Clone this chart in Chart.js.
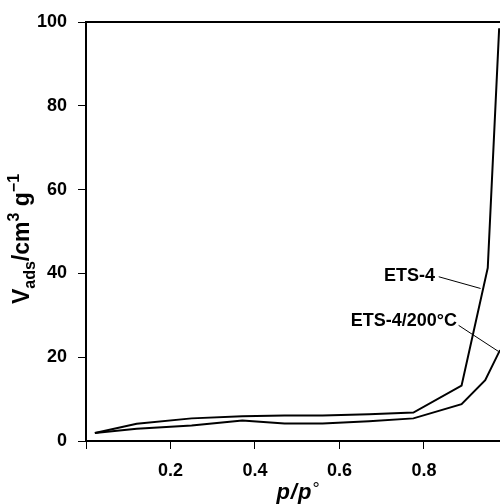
<!DOCTYPE html>
<html>
<head>
<meta charset="utf-8">
<script src="https://cdn.jsdelivr.net/npm/chart.js@4/dist/chart.umd.min.js"></script>
<style>
  html, body { margin: 0; padding: 0; background: #fff; }
  #wrap { width: 500px; height: 504px; position: relative; }
</style>
</head>
<body>
<div id="wrap"><canvas id="c"></canvas></div>
<script>
// ---- data ----
const pressureEts4 = [0.021, 0.12, 0.25, 0.37, 0.47, 0.56, 0.67, 0.775, 0.889, 0.951, 0.978];
const volumeEts4   = [1.9, 4.1, 5.4, 5.9, 6.1, 6.1, 6.4, 6.8, 13.2, 41.3, 98.5];
const pressureEts4_200 = [0.021, 0.12, 0.25, 0.37, 0.47, 0.56, 0.67, 0.775, 0.889, 0.945, 0.98];
const volumeEts4_200   = [1.9, 2.9, 3.7, 4.9, 4.2, 4.2, 4.7, 5.4, 8.8, 14.5, 21.7];
const seriesNames = ['ETS-4', 'ETS-4/200°C'];
const xTicks = [0, 0.2, 0.4, 0.6, 0.8];
const yTicks = [0, 20, 40, 60, 80, 100];

// ---- label placement (data units) ----
const labelSpecs = [
  { text: seriesNames[0], x: 0.826, y: 39.4, from: [0.835, 39.2], to: [0.934, 36.4] },
  { text: seriesNames[1], x: 0.878, y: 28.6, from: [0.882, 27.6], to: [0.976, 21.4] }
];

const FONT = "'Liberation Sans', Arial, Helvetica, sans-serif";

const toXY = (xs, ys) => xs.map((x, i) => ({ x: x, y: ys[i] }));

function drawParts(ctx, parts, startX, baseY) {
  let px = startX;
  parts.forEach(p => { ctx.font = p.f; ctx.fillText(p.t, px, baseY + p.dy); px += p.w + (p.gap || 0); });
}
function measureParts(ctx, parts) {
  let total = 0;
  parts.forEach(p => { ctx.font = p.f; p.w = ctx.measureText(p.t).width; total += p.w + (p.gap || 0); });
  return total;
}

const decorPlugin = {
  id: 'decor',
  afterDraw(chart) {
    const ctx = chart.ctx;
    const a = chart.chartArea;
    const xs = chart.scales.x, ys = chart.scales.y;
    ctx.save();
    // top frame line
    ctx.strokeStyle = '#000';
    ctx.lineWidth = 2;
    ctx.beginPath();
    ctx.moveTo(a.left - 1, a.top);
    ctx.lineTo(a.right, a.top);
    ctx.stroke();

    // series labels with leader lines
    ctx.fillStyle = '#000';
    ctx.font = 'bold 18px ' + FONT;
    ctx.textAlign = 'right';
    ctx.textBaseline = 'middle';
    ctx.lineWidth = 1;
    labelSpecs.forEach(s => {
      ctx.fillText(s.text, xs.getPixelForValue(s.x), ys.getPixelForValue(s.y));
      ctx.beginPath();
      ctx.moveTo(xs.getPixelForValue(s.from[0]), ys.getPixelForValue(s.from[1]));
      ctx.lineTo(xs.getPixelForValue(s.to[0]), ys.getPixelForValue(s.to[1]));
      ctx.stroke();
    });

    // y-axis title: V_ads/cm^3 g^-1 (rotated)
    const parts = [
      { t: 'V', f: 'bold 23px ' + FONT, dy: 0 },
      { t: 'ads', f: 'bold 16px ' + FONT, dy: 6 },
      { t: '/cm', f: 'bold 23px ' + FONT, dy: 0 },
      { t: '3', f: 'bold 16px ' + FONT, dy: -10 },
      { t: ' g', f: 'bold 23px ' + FONT, dy: 0 },
      { t: '\u22121', f: 'bold 16px ' + FONT, dy: -10 }
    ];
    const total = measureParts(ctx, parts);
    ctx.translate(29, 239);
    ctx.rotate(-Math.PI / 2);
    ctx.textAlign = 'left';
    ctx.textBaseline = 'alphabetic';
    drawParts(ctx, parts, -total / 2, 0);
    ctx.setTransform(1, 0, 0, 1, 0, 0);

    // x-axis title: p/p°
    const xparts = [
      { t: 'p', f: 'italic bold 22px ' + FONT, dy: 0, gap: 1 },
      { t: '/', f: 'italic bold 22px ' + FONT, dy: 0, gap: 1 },
      { t: 'p', f: 'italic bold 22px ' + FONT, dy: 0, gap: 1 },
      { t: '\u00B0', f: '18px ' + FONT, dy: -4 }
    ];
    const tw = measureParts(ctx, xparts);
    drawParts(ctx, xparts, 298 - tw / 2, 499);
    ctx.restore();
  }
};

new Chart(document.getElementById('c'), {
  type: 'line',
  data: {
    datasets: [
      { label: seriesNames[0], data: toXY(pressureEts4, volumeEts4),
        borderColor: '#000', borderWidth: 2, pointRadius: 0, tension: 0, fill: false },
      { label: seriesNames[1], data: toXY(pressureEts4_200, volumeEts4_200),
        borderColor: '#000', borderWidth: 2, pointRadius: 0, tension: 0, fill: false }
    ]
  },
  options: {
    responsive: true,
    maintainAspectRatio: false,
    animation: false,
    devicePixelRatio: 1,
    layout: { padding: { top: 22, right: 0, left: 0, bottom: 0 } },
    plugins: { legend: { display: false }, tooltip: { enabled: false } },
    scales: {
      x: {
        type: 'linear', min: 0, max: 0.98,
        afterBuildTicks: s => { s.ticks = xTicks.map(v => ({ value: v })); },
        afterFit: s => { s.height = 63; },
        grid: { drawOnChartArea: false, color: '#000', tickLength: 8, lineWidth: 1 },
        border: { display: true, color: '#000', width: 2 },
        ticks: {
          color: '#000', padding: 11, maxRotation: 0,
          font: { family: FONT, size: 18, weight: 'bold' },
          callback: v => (v === 0 ? '' : v.toFixed(1))
        }
      },
      y: {
        type: 'linear', min: 0, max: 100,
        afterBuildTicks: s => { s.ticks = yTicks.map(v => ({ value: v })); },
        afterFit: s => { s.width = 86; },
        grid: { drawOnChartArea: false, color: '#000', tickLength: 8, lineWidth: 1 },
        border: { display: true, color: '#000', width: 2 },
        ticks: {
          color: '#000', padding: 11,
          font: { family: FONT, size: 18, weight: 'bold' },
          callback: v => String(v)
        }
      }
    }
  },
  plugins: [decorPlugin]
});
</script>
</body>
</html>
